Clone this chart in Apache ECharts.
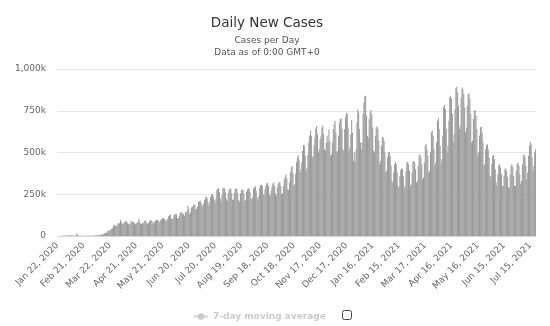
<!DOCTYPE html>
<html><head><meta charset="utf-8">
<script src="https://cdn.jsdelivr.net/npm/echarts@6/dist/echarts.min.js"></script>
<style>html,body{margin:0;padding:0;background:#fff}#c{width:550px;height:326px}</style>
</head><body><div id="c"></div>
<script>
// Daily new cases, in thousands, one row per week starting Wednesday Jan 22, 2020
const startDate = "2020-01-22";
const dailyCasesK = [
0.1,0.1,0.3,0.5,0.7,0.8,1.7,
1.5,2.0,2.1,2.6,2.8,3.2,3.9,
3.7,3.2,3.4,2.7,2.6,2.0,2.0,
2.0,15.1,6.5,2.7,2.1,2.0,1.9,
0.5,0.6,1.0,1.0,0.6,0.8,0.9,
1.0,1.3,1.9,1.7,2.0,2.2,2.4,
2.7,3.0,4.0,4.0,3.9,4.3,4.8,
7.0,7.5,10.5,11.0,13.6,16.0,19.8,
16.5,28.7,32.0,31.8,33.0,40.0,42.0,
47,63,64,62,58,60,74,
76,77,97,82,74,70,80,
87,85,90,77,74,68,74,
85,90,84,82,77,71,76,
79,85,104,85,73,72,78,
77,85,95,90,80,73,78,
90,93,96,90,80,74,85,
90,97,97,95,80,88,94,
100,105,108,104,98,88,94,
105,118,125,128,105,100,105,
122,130,130,132,108,103,120,
138,140,142,135,130,120,140,
145,147,183,160,130,140,170,
175,180,190,185,163,160,175,
205,208,212,200,185,170,195,
215,230,238,225,200,180,205,
235,248,252,240,215,200,225,
275,282,287,262,225,205,245,
285,290,285,260,220,210,255,
275,285,283,255,215,220,260,
285,283,285,255,215,205,255,
275,279,275,255,210,215,265,
280,285,283,265,225,220,235,
285,290,299,270,230,215,240,
290,305,309,300,250,240,280,
300,315,319,300,250,240,270,
295,315,321,300,255,240,290,
315,320,325,300,250,255,300,
340,355,369,345,280,275,320,
380,410,419,375,300,310,370,
440,470,485,450,380,400,440,
510,545,540,480,390,410,490,
560,600,631,600,470,480,540,
590,645,659,610,500,520,580,
600,650,661,610,520,510,560,
600,560,639,570,480,490,560,
640,670,690,620,500,510,600,
680,700,705,640,520,510,640,
710,735,730,650,510,530,610,
695,620,450,500,445,520,680,
760,740,640,560,520,560,730,
800,838,840,720,600,590,700,
740,754,730,650,510,500,600,
650,655,640,570,430,450,540,
590,591,570,500,380,390,470,
500,505,480,420,330,320,380,
430,441,430,380,300,290,360,
395,405,400,360,285,300,390,
440,445,430,390,300,310,380,
445,451,440,400,320,330,420,
480,491,470,430,340,350,440,
540,551,520,480,380,390,500,
620,631,600,520,420,440,560,
690,705,640,540,430,460,600,
770,784,760,640,500,540,690,
830,838,820,730,560,610,760,
885,894,860,780,640,660,830,
888,880,850,770,620,650,780,
850,854,820,730,560,570,700,
750,754,720,640,480,500,600,
650,655,620,560,420,430,520,
545,549,520,470,360,350,430,
480,485,460,400,320,300,370,
425,429,410,370,300,300,360,
400,405,390,350,290,290,370,
420,429,410,360,300,300,390,
435,439,420,370,310,330,430,
480,489,470,420,340,380,480,
540,565,550,470,390,420,500,
520
];
const yTicks = [0, 250, 500, 750, 1000];
const titleText = "Daily New Cases";
const subText = "Cases per Day\nData as of 0:00 GMT+0";
const legendName = "7-day moving average";

const months = ["Jan","Feb","Mar","Apr","May","Jun","Jul","Aug","Sep","Oct","Nov","Dec"];
const categories = [];
{
  const d0 = new Date(startDate + "T00:00:00Z");
  for (let i = 0; i < dailyCasesK.length; i++) {
    const d = new Date(d0.getTime() + i * 86400000);
    categories.push(months[d.getUTCMonth()] + " " + d.getUTCDate() + ", " + d.getUTCFullYear());
  }
}

const chart = echarts.init(document.getElementById('c'), null, {renderer: 'canvas'});
const FONT = "DejaVu Sans";
chart.setOption({
  animation: false,
  backgroundColor: '#ffffff',
  textStyle: {fontFamily: FONT},
  title: {
    text: titleText,
    subtext: subText,
    left: 262,
    textAlign: 'center',
    top: 11,
    itemGap: 5,
    textStyle: {fontFamily: FONT, fontSize: 13.5, fontWeight: 'normal', color: '#333333'},
    subtextStyle: {fontFamily: FONT, fontSize: 9, color: '#555555', lineHeight: 12, align: 'center'}
  },
  legend: {
    data: [legendName],
    selected: {[legendName]: false},
    left: 188,
    top: 307,
    itemWidth: 14,
    itemHeight: 8,
    itemGap: 5,
    inactiveColor: '#cccccc',
    inactiveBorderColor: '#cccccc',
    textStyle: {fontFamily: FONT, fontSize: 9, fontWeight: 'bold'}
  },
  grid: {left: 57, right: 14, top: 69, bottom: 90, containLabel: false},
  xAxis: {
    type: 'category',
    data: categories,
    boundaryGap: true,
    axisLine: {lineStyle: {color: '#d8d8d8'}},
    axisTick: {show: false},
    axisLabel: {
      interval: 29,
      rotate: 45,
      fontFamily: FONT,
      fontSize: 9,
      color: '#666666',
      margin: 8
    }
  },
  yAxis: {
    type: 'value',
    min: yTicks[0],
    max: yTicks[yTicks.length - 1],
    interval: yTicks[1] - yTicks[0],
    axisLine: {show: false},
    axisTick: {show: false},
    splitLine: {lineStyle: {color: '#e6e6e6'}},
    axisLabel: {
      fontFamily: FONT,
      fontSize: 9,
      color: '#666666',
      margin: 11,
      formatter: v => v === 0 ? '0' : v.toLocaleString('en-US') + 'k'
    }
  },
  series: [
    {
      name: 'Daily Cases',
      type: 'bar',
      data: dailyCasesK,
      barCategoryGap: '0%',
      itemStyle: {color: '#999999'}
    },
    {
      name: legendName,
      type: 'line',
      data: [],
      symbol: 'circle',
      symbolSize: 6,
      itemStyle: {color: '#ff9900'},
      lineStyle: {color: '#ff9900'}
    }
  ],
  graphic: [
    {
      type: 'rect',
      shape: {x: 342.5, y: 310.5, width: 9, height: 9, r: 2},
      style: {fill: '#ffffff', stroke: '#444444', lineWidth: 1}
    }
  ]
});
</script>
</body></html>
